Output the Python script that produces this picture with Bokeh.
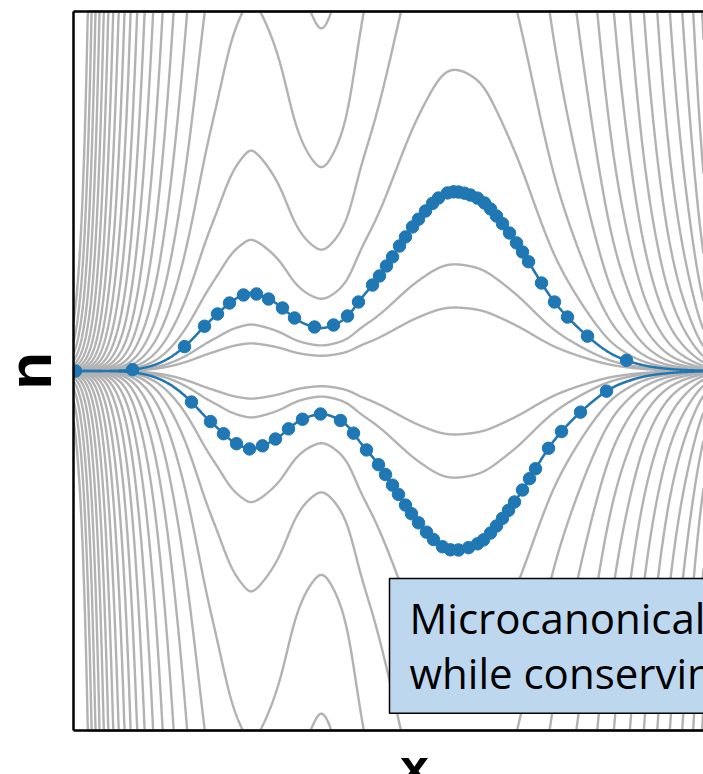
import numpy as np
from bokeh.plotting import figure
from bokeh.models import Range1d, Label
from bokeh.embed import file_html
from bokeh.resources import INLINE

# ---- potential U(x) (phase-space contours u = exp(E - U(x)))
pot_x = [0.00, 0.143, 0.22, 0.303, 0.397, 0.51, 0.637, 0.797, 1.003, 1.137, 1.303,
         1.44, 1.56, 1.70, 1.77, 1.83, 1.95, 2.09, 2.21, 2.41, 2.47, 2.60, 2.74, 2.85,
         2.99, 3.13, 3.26, 3.39, 3.52, 3.65, 3.74, 3.85, 3.97, 4.11, 4.23, 4.36, 4.49,
         4.68, 4.81, 5.03, 5.237, 5.403, 5.563, 5.703, 5.837, 5.963, 6.087, 6.197,
         6.287, 6.45]
pot_U = [11.10, 9.10, 8.06, 7.02, 5.99, 4.95, 3.91, 2.87, 1.83, 1.315, 0.82,
         0.562, 0.386, 0.274, 0.248, 0.261, 0.329, 0.462, 0.635, 0.821, 0.844, 0.777,
         0.598, 0.371, 0.151, -0.049, -0.223, -0.365, -0.470, -0.548, -0.577, -0.582,
         -0.565, -0.519, -0.438, -0.322, -0.174, 0.128, 0.371, 0.80, 1.315, 1.834,
         2.353, 2.872, 3.391, 3.91, 4.43, 4.95, 5.47, 6.45]

# contour levels (energy index) and spacing
level_index = list(range(-2, 21))
level_spacing = 0.519
sample_level = 0.0  # highlighted (blue) energy shell

# blue samples along the shell (x positions), upper / lower branch
dots_upper_x = [0.02, 0.59, 1.11, 1.31, 1.44, 1.56, 1.70, 1.83, 1.95, 2.09, 2.21, 2.41,
                2.60, 2.74, 2.85, 2.99, 3.06, 3.13, 3.19, 3.26, 3.32, 3.39, 3.45, 3.52,
                3.59, 3.65, 3.74, 3.80, 3.85, 3.91, 3.97, 4.04, 4.11, 4.17, 4.23, 4.29,
                4.36, 4.43, 4.49, 4.55, 4.68, 4.81, 4.94, 5.14, 5.53]
dots_lower_x = [1.18, 1.37, 1.50, 1.63, 1.76, 1.89, 2.02, 2.15, 2.29, 2.47, 2.67, 2.80,
                2.93, 3.05, 3.12, 3.19, 3.25, 3.32, 3.38, 3.45, 3.53, 3.60, 3.69, 3.77,
                3.85, 3.95, 4.04, 4.10, 4.17, 4.23, 4.29, 4.35, 4.41, 4.49, 4.56, 4.62,
                4.75, 4.88, 5.07, 5.33]

box_lines = ["Microcanonical", "while conserving"]
x_label = "x"
u_label = "u"


def natural_spline(xk, yk, xq):
    xk = np.asarray(xk, float)
    yk = np.asarray(yk, float)
    n = len(xk)
    h = np.diff(xk)
    A = np.zeros((n, n))
    r = np.zeros(n)
    A[0, 0] = 1.0
    A[-1, -1] = 1.0
    for i in range(1, n - 1):
        A[i, i - 1] = h[i - 1]
        A[i, i] = 2 * (h[i - 1] + h[i])
        A[i, i + 1] = h[i]
        r[i] = 3 * ((yk[i + 1] - yk[i]) / h[i] - (yk[i] - yk[i - 1]) / h[i - 1])
    c = np.linalg.solve(A, r)
    b = (yk[1:] - yk[:-1]) / h - h * (2 * c[:-1] + c[1:]) / 3
    d = (c[1:] - c[:-1]) / (3 * h)
    xq = np.asarray(xq, float)
    idx = np.clip(np.searchsorted(xk, xq) - 1, 0, n - 2)
    dx = xq - xk[idx]
    return yk[idx] + b[idx] * dx + c[idx] * dx ** 2 + d[idx] * dx ** 3


# axes box (data units) and the visible canvas extent around it
X0, X1 = 0.0, 6.30
U_TOP, U_BOT = 3.595, -3.595
V_LEFT = -0.73
V_TOP, V_BOT = 3.705, -4.035

p = figure(width=703, height=774, x_range=Range1d(V_LEFT, X1), y_range=Range1d(V_BOT, V_TOP),
           output_backend="svg", toolbar_location=None,
           x_axis_type=None, y_axis_type=None,
           min_border_left=0, min_border_right=0, min_border_top=0, min_border_bottom=0)
p.outline_line_color = None
p.background_fill_color = "white"
p.border_fill_color = "white"

xs_grid = np.linspace(X0, X1, 1600)
U_grid = natural_spline(pot_x, pot_U, xs_grid)

xs_list, ys_list = [], []
for k in level_index:
    E = k * level_spacing
    u = np.clip(np.exp(E - U_grid), 0, U_TOP)
    xs_list += [xs_grid, xs_grid]
    ys_list += [u, -u]
p.multi_line(xs_list, ys_list, line_color="#b2b2b2", line_width=2.4)

u_blue = np.exp(sample_level - U_grid)
p.line(xs_grid, u_blue, line_color="#1f77b4", line_width=2.4)
p.line(xs_grid, -u_blue, line_color="#1f77b4", line_width=2.4)

du = np.exp(sample_level - natural_spline(pot_x, pot_U, dots_upper_x))
dl = -np.exp(sample_level - natural_spline(pot_x, pot_U, dots_lower_x))
p.scatter(dots_upper_x, du, size=12.5, color="#1f77b4")
p.scatter(dots_lower_x, dl, size=12.5, color="#1f77b4")

# blank margin left of the axes box (hides what lies outside it)
p.quad(left=[V_LEFT], right=[X0], bottom=[V_BOT], top=[V_TOP],
       fill_color="white", line_color=None)

# left, top and bottom edges of the axes box
p.segment(x0=[X0, X0, X0], y0=[U_TOP, U_BOT, U_BOT],
          x1=[X1 + 0.1, X1 + 0.1, X0], y1=[U_TOP, U_BOT, U_TOP],
          line_color="black", line_width=2.5)

box = Label(x=3.16, y=-2.075, text="\n".join(box_lines),
            text_font="Open Sans", text_font_size="42px", text_color="black",
            text_align="left", text_baseline="top", text_line_height=0.98,
            background_fill_color="#bdd7ee", background_fill_alpha=1.0,
            border_line_color="black", border_line_width=1.5,
            padding=dict(left=20, right=20, top=10, bottom=12))
p.add_layout(box)

xl = Label(x=3.41, y=-3.665, text=x_label, text_font="Liberation Sans",
           text_font_style="bold", text_font_size="52px", text_align="center",
           text_baseline="top", text_color="black")
p.add_layout(xl)

ul = Label(x=-0.33, y=0.0, text=u_label, text_font="Liberation Sans",
           text_font_style="bold", text_font_size="62px", text_align="center",
           text_baseline="middle", angle=-np.pi / 2, text_color="black")
p.add_layout(ul)

open("out.html", "w").write(file_html(p, INLINE))
